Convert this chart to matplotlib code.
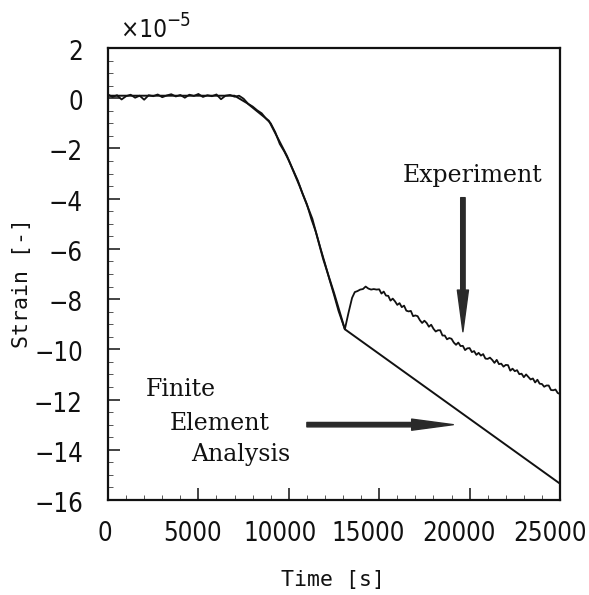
import matplotlib
matplotlib.use("Agg")
import matplotlib.pyplot as plt
from matplotlib.ticker import MultipleLocator, FixedLocator
from matplotlib.transforms import ScaledTranslation

# ---------------- data (strain in units of 1e-5) ----------------
fea_time = [0, 7000, 7700, 8900, 9900, 10600, 11300, 11900, 12500, 13100, 25000]
fea_strain = [0.1, 0.1, -0.2, -0.9, -2.3, -3.5, -4.8, -6.4, -7.75, -9.2, -15.35]

exp_time = [0, 250, 500, 750, 1000, 1250, 1500, 1750, 2000, 2250, 2500, 2750,
            3000, 3250, 3500, 3750, 4000, 4250, 4500, 4750, 5000, 5250, 5500,
            5750, 6000, 6250, 6500, 6750, 7000, 7250, 7500, 7750, 8000, 8250,
            8500, 8750, 9000, 9250, 9500, 9750, 10000, 10250, 10500, 10750,
            11000, 11250, 11500, 11750, 12000, 12250, 12500, 12750, 13000,
            13100, 13300, 13500, 13650, 13800, 13950, 14100, 14250, 14400,
            14550, 14700, 14850,
            15000, 15125, 15250, 15375, 15500, 15625, 15750, 15875,
            16000, 16125, 16250, 16375, 16500, 16625, 16750, 16875,
            17000, 17125, 17250, 17375, 17500, 17625, 17750, 17875,
            18000, 18125, 18250, 18375, 18500, 18625, 18750, 18875,
            19000, 19125, 19250, 19375, 19500, 19625, 19750, 19875,
            20000, 20125, 20250, 20375, 20500, 20625, 20750, 20875,
            21000, 21125, 21250, 21375, 21500, 21625, 21750, 21875,
            22000, 22125, 22250, 22375, 22500, 22625, 22750, 22875,
            23000, 23125, 23250, 23375, 23500, 23625, 23750, 23875,
            24000, 24125, 24250, 24375, 24500, 24625, 24750, 24875, 25000]
exp_strain = [0.15, 0.05, 0.12, -0.05, 0.08, 0.14, 0.02, 0.10, -0.06, 0.12,
              0.08, 0.15, 0.04, 0.11, 0.16, 0.07, 0.13, 0.02, 0.14, 0.09,
              0.17, 0.05, 0.12, 0.08, 0.15, -0.04, 0.10, 0.13, 0.06, 0.10,
              -0.02, -0.22, -0.33, -0.48, -0.60, -0.82, -1.00, -1.35, -1.82,
              -2.12, -2.48, -2.88, -3.28, -3.78, -4.22, -4.82, -5.33, -5.97,
              -6.58, -7.22, -7.83, -8.47, -9.00,
              -9.20, -8.55, -7.95, -7.72, -7.68, -7.62, -7.60, -7.50, -7.58,
              -7.62, -7.60, -7.62,
              -7.61, -7.78, -7.70, -7.86, -7.87, -8.06, -7.98, -8.09,
              -8.23, -8.16, -8.32, -8.26, -8.46, -8.49, -8.47, -8.68,
              -8.65, -8.68, -8.84, -8.95, -8.86, -8.95, -9.10, -9.02,
              -9.18, -9.29, -9.24, -9.24, -9.45, -9.45, -9.60, -9.55,
              -9.58, -9.73, -9.82, -9.73, -9.87, -9.86, -10.03, -9.96,
              -9.95, -10.11, -10.07, -10.22, -10.14, -10.25, -10.19, -10.37,
              -10.38, -10.33, -10.42, -10.54, -10.42, -10.59, -10.57, -10.69,
              -10.62, -10.63, -10.85, -10.77, -10.87, -10.83, -10.99, -10.97,
              -11.11, -11.00, -11.10, -11.20, -11.16, -11.32, -11.21, -11.37,
              -11.38, -11.49, -11.44, -11.44, -11.62, -11.63, -11.60, -11.74,
              -11.78]

x_ticks = [0, 5000, 10000, 15000, 20000, 25000]
y_ticks = [2, 0, -2, -4, -6, -8, -10, -12, -14, -16]

# ---------------- figure ----------------
fig = plt.figure(figsize=(5.89, 5.95), dpi=100)
ax = fig.add_axes([108 / 589, 1 - 500 / 595, 452 / 589, 452 / 595])

tick_font = ['DejaVu Sans']
tick_stretch = 'condensed'
mono_font = ['DejaVu Sans Mono']
serif_font = ['DejaVu Serif']

ink = '#111111'
ax.plot(fea_time, fea_strain, color=ink, lw=1.4)
ax.plot(exp_time, exp_strain, color=ink, lw=1.3)

ax.set_xlim(0, 25000)
ax.set_ylim(-16, 2)

ax.xaxis.set_major_locator(FixedLocator(x_ticks))
ax.yaxis.set_major_locator(FixedLocator(y_ticks))
ax.xaxis.set_minor_locator(MultipleLocator(1000))
ax.yaxis.set_minor_locator(MultipleLocator(0.5))
ax.set_xticklabels([str(v) for v in x_ticks])
ax.set_yticklabels([str(v).replace('-', '\u2212') for v in y_ticks])

ax.tick_params(which='major', direction='in', length=8.6, width=1.1,
               color=ink, labelsize=18.5, top=False, right=False)
ax.tick_params(axis='x', which='major', pad=15)
ax.tick_params(axis='y', which='major', pad=18)
ax.tick_params(which='minor', direction='in', length=3.5, width=0.7,
               color='#555555', top=False, right=False)
for lab in ax.get_xticklabels() + ax.get_yticklabels():
    lab.set_family(tick_font)
    lab.set_stretch(tick_stretch)
    lab.set_color(ink)
# small horizontal shifts of the x tick labels as in the scanned original
x_shift_px = [-3, -6, -9, -11, -11, -10]
for lab, dx in zip(ax.get_xticklabels(), x_shift_px):
    lab.set_transform(lab.get_transform() +
                      ScaledTranslation(dx / 100, 0, fig.dpi_scale_trans))
for lab in ax.get_yticklabels():
    lab.set_transform(lab.get_transform() +
                      ScaledTranslation(0, -2 / 100, fig.dpi_scale_trans))

for s in ax.spines.values():
    s.set_linewidth(1.6)
    s.set_color(ink)

ax.set_xlabel('Time [s]', family=mono_font, fontsize=15.5, color=ink, va='center')
ax.xaxis.set_label_coords((333 - 108) / 452, (500 - 580) / 452)
ax.set_ylabel('Strain [-]', family=mono_font, fontsize=15.5, color=ink, va='center')
ax.yaxis.set_label_coords((22 - 108) / 452, (500 - 283) / 452)

fig.text(121 / 589, 1 - 29.7 / 595, '\u00d710', family=tick_font,
         stretch=tick_stretch, fontsize=17.5, va='center', ha='left', color=ink)
fig.text(166 / 589, 1 - 21.0 / 595, '\u22125', family=tick_font,
         stretch=tick_stretch, fontsize=13.5, va='center', ha='left', color=ink)

# annotations
arrow_style = dict(width=3.2, headwidth=8, headlength=30,
                   facecolor='#2a2a2a', edgecolor='#2a2a2a')
ax.text(20190, -3.08, 'Experiment', family=serif_font, fontsize=17,
        ha='center', va='center', color=ink)
ax.annotate('', xy=(19630, -9.3), xytext=(19630, -3.96), arrowprops=arrow_style)
ax.text(4040, -11.6, 'Finite', family=serif_font, fontsize=17,
        ha='center', va='center', color=ink)
ax.text(6200, -12.96, 'Element', family=serif_font, fontsize=17,
        ha='center', va='center', color=ink)
ax.text(7360, -14.2, 'Analysis', family=serif_font, fontsize=17,
        ha='center', va='center', color=ink)
ax.annotate('', xy=(19100, -13.0), xytext=(11000, -13.0), arrowprops=arrow_style)

fig.savefig('out.png', dpi=100, facecolor='white')
